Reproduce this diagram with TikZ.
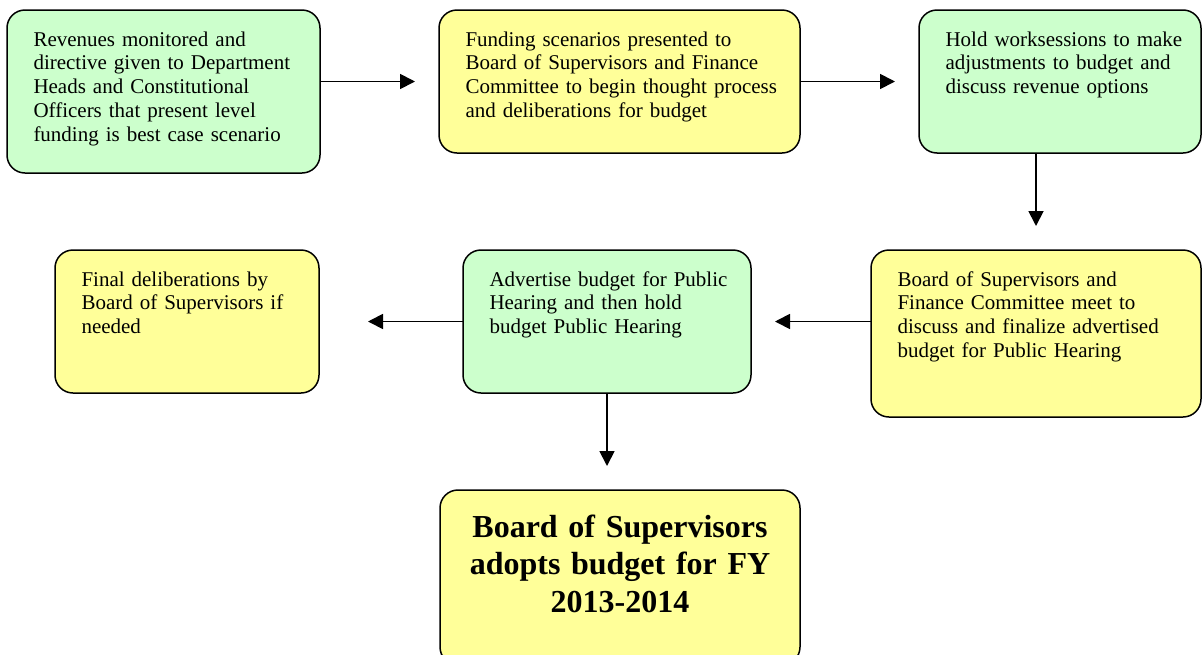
\documentclass[tikz,border=0pt]{standalone}
\usepackage{fontspec}
\setmainfont{Liberation Serif}
\usepackage{tikz}
\usetikzlibrary{arrows.meta}
\definecolor{boxgreen}{HTML}{CCFFCC}
\definecolor{boxyellow}{HTML}{FFFF99}

\begin{document}
\begin{tikzpicture}[
            x = 1pt, y = -1pt, % pixel grid, y down
            > = {Triangle[length=15pt,width=15pt]}, % arrow head style
            shorten > = 24pt, % gap between arrow head and box
            line width = 1.8pt
        ]

        \tikzstyle{every box}=[
            draw = black,
            line width = 1.5pt,
            rounded corners = 18pt,
            anchor = north west,
            outer sep = 0pt,
            inner xsep = 26.5pt,
            inner ysep = 0pt
        ]
        \tikzstyle{stepbox}=[
            every box,
            align = left,
            text height = 36pt,
            execute at begin node = {\rightskip=0pt plus 1fil minus 40pt},
            font = \fontsize{21}{23.8}\selectfont
        ]
        \tikzstyle{greenbox}=[stepbox, fill = boxgreen]
        \tikzstyle{yellowbox}=[stepbox, fill = boxyellow]
        \tikzstyle{resultbox}=[
            every box,
            fill = boxyellow,
            align = center,
            text height = 47pt,
            font = \fontsize{32}{37.5}\selectfont\bfseries
        ]

        \useasboundingbox (0,0) rectangle (1202,654);

	% top row
        \node[greenbox, text width=260pt, text depth=127pt] (rev) at (7,10)
            {Revenues monitored and\\ directive given to Department\\ Heads and Constitutional\\ Officers that present level\\ funding is best case scenario};
        \node[yellowbox, text width=308pt, text depth=107pt] (fund) at (439,10)
            {Funding scenarios presented to\\ Board of Supervisors and Finance\\ Committee to begin thought process\\ and deliberations for budget};
        \node[greenbox, text width=229pt, text depth=107pt] (work) at (919,10)
            {Hold worksessions to make\\ adjustments to budget and\\ discuss revenue options};

        % middle row
        \node[yellowbox, text width=277pt, text depth=131pt] (meet) at (871,250)
            {Board of Supervisors and\\ Finance Committee meet to\\ discuss and finalize advertised\\ budget for Public Hearing};
        \node[greenbox, text width=235pt, text depth=107pt] (adv) at (463,250)
            {Advertise budget for Public\\ Hearing and then hold\\ budget Public Hearing};
        \node[yellowbox, text width=211pt, text depth=107pt] (final) at (55,250)
            {Final deliberations by\\ Board of Supervisors if\\ needed};

        % result
        \node[resultbox, text width=307pt, text depth=128pt] (adopt) at (440,490)
            {Board of Supervisors\\ adopts budget for FY\\ 2013-2014};

        \path[->] (rev.east |- fund.west) edge (fund.west);
        \path[->] (fund.east) edge (work.west);
        \path[->] (work.south -| meet.north) edge (meet.north);
        \path[->] (meet.west |- adv.east) edge (adv.east);
        \path[->,shorten > = 49pt] (adv.west) edge (final.east);
        \path[->] (adv.south) edge (adv.south |- adopt.north);

  \end{tikzpicture}
\end{document}
